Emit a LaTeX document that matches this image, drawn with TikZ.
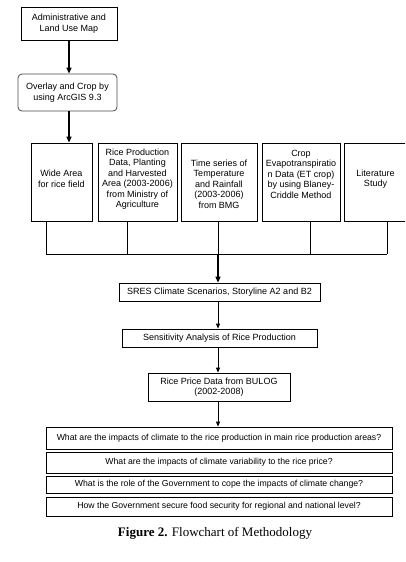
\documentclass[tikz,border=0pt]{standalone}
\usepackage{fontspec}
\setmainfont{Liberation Serif}
\newfontfamily\arial{Liberation Sans}
\usetikzlibrary{arrows.meta}
\begin{document}
\begin{tikzpicture}[x=1pt,y=-1pt,
  box/.style={draw=black, line width=0.8pt, inner sep=0pt, align=center,
    font=\arial\fontsize{9}{10.5}\selectfont},
  qbox/.style={box, minimum width=346, font=\arial\fontsize{8.7}{10}\selectfont},
  rowbox/.style={box, minimum height=78},
  arr/.style={-{Triangle[length=6pt,width=5pt]}, line width=1.4pt},
  tarr/.style={-{Triangle[length=5pt,width=4pt]}, line width=0.9pt},
  ln/.style={line width=0.9pt}]
\useasboundingbox (0,0) rectangle (405,562);
\fill[white] (0,0) rectangle (405,562);

\node[box, minimum width=96, minimum height=33] (admin) at (69,23.5) {Administrative and\\Land Use Map};
\node[box, draw=black!70, rounded corners=4pt, minimum width=99, minimum height=37] (overlay) at (67.5,92.5) {Overlay and Crop by\\using ArcGIS 9.3};

\begin{scope}
\clip (0,0) rectangle (405,562);
\node[rowbox, minimum width=61] (ba) at (61.5,182) {};
\node[rowbox, minimum width=79] (bb) at (137.5,182) {};
\node[rowbox, minimum width=76] (bc) at (219,182) {};
\node[rowbox, minimum width=78] (bd) at (301,182) {};
\node[rowbox, minimum width=63] (be) at (375.5,182) {};
\end{scope}
\node[box, draw=none] (ta) at (61.5,179) {Wide Area\\for rice field};
\node[box, draw=none] (tb) at (137.5,179) {Rice Production\\Data, Planting\\and Harvested\\Area (2003-2006)\\from Ministry of\\Agriculture};
\node[box, draw=none] (tc) at (219,184) {Time series of\\Temperature\\and Rainfall\\(2003-2006)\\from BMG};
\node[box, draw=none] (td) at (301,174) {Crop\\Evapotranspiratio\\n Data (ET crop)\\by using Blaney-\\Criddle Method};
\node[box, draw=none] (te) at (375.5,179) {Literature\\Study};

\node[box, minimum width=201, minimum height=18] (sres) at (219.5,292) {SRES Climate Scenarios, Storyline A2 and B2};
\node[box, minimum width=195, minimum height=18] (sens) at (219.5,338) {Sensitivity Analysis of Rice Production};
\node[box, minimum width=142, minimum height=28] (price) at (219,387) {Rice Price Data from BULOG\\(2002-2008)};

\node[qbox, minimum height=22] (q1) at (219,438) {What are the impacts of climate to the rice production in main rice production areas?};
\node[qbox, minimum height=21] (q2) at (219,462.5) {What are the impacts of climate variability to the rice price?};
\node[qbox, minimum height=17] (q3) at (219,484.5) {What is the role of the Government to cope the impacts of climate change?};
\node[qbox, minimum height=19] (q4) at (219,506.5) {How the Government secure food security for regional and national level?};

\node[font=\fontsize{13}{15}\selectfont] (cap) at (215,533) {\textbf{Figure 2.} Flowchart of Methodology};

\coordinate (ja) at (46,254);
\coordinate (jb) at (127,254);
\coordinate (jc) at (218,254);
\coordinate (jd) at (310,254);
\coordinate (je) at (387,254);

\draw[arr] (admin.south) -- (admin.south |- overlay.north);
\draw[arr] (admin.south |- overlay.south) -- (admin.south |- ba.north);
\draw[ln] (ja |- ba.south) -- (ja);
\draw[ln] (jb |- bb.south) -- (jb);
\draw[ln] (jc |- bc.south) -- (jc);
\draw[ln] (jd |- bd.south) -- (jd);
\draw[ln] (je |- be.south) -- (je);
\draw[ln] (ja) -- (je);
\draw[arr] (jc) -- (jc |- sres.north);
\draw[tarr] (jc |- sres.south) -- (jc |- sens.north);
\draw[tarr] (jc |- sens.south) -- (jc |- price.north);
\draw[tarr] (jc |- price.south) -- (jc |- q1.north);
\end{tikzpicture}
\end{document}
